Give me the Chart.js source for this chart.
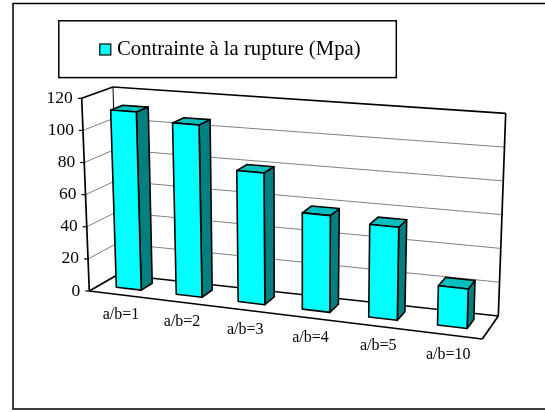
<!DOCTYPE html>
<html>
<head>
  <meta charset="utf-8">
  <title>Contrainte à la rupture</title>
  <script src="https://cdn.jsdelivr.net/npm/chart.js"></script>
  <style>
    html, body { margin: 0; padding: 0; background: white; }
    canvas { display: block; }
  </style>
</head>
<body>
<canvas id="chart" width="545" height="412"></canvas>
<script>
  const categories = ['a/b=1', 'a/b=2', 'a/b=3', 'a/b=4', 'a/b=5', 'a/b=10'];
  const rupture = [111, 106, 80, 58, 55, 23];
  const yTicks = [0, 20, 40, 60, 80, 100, 120];
  const seriesName = 'Contrainte à la rupture (Mpa)';

  const FONT = '"Liberation Serif", "Times New Roman", serif';

  // the 3D box on screen: front plane, then back plane
  const box = {
    front: { bl: [89.3, 291], br: [482.3, 339], tl: [81.7, 98.3], tr: [487.7, 130.3] },
    back: { bl: [118, 274.5], br: [498.3, 316], tl: [113, 87], tr: [505.7, 113.3] }
  };
  const persp = 1.11;          // bars get wider towards the right
  const barDepth = [0.35, 0.75];

  function lerp(a, b, t) { return [a[0] + (b[0] - a[0]) * t, a[1] + (b[1] - a[1]) * t]; }

  // chart area pixel + depth (0 front, 1 back) -> screen point
  function project(area, px, py, d) {
    let u = (px - area.left) / area.width;
    const v = (area.bottom - py) / area.height;
    u = u / (u + (1 - u) * persp);
    const f = lerp(lerp(box.front.bl, box.front.br, u), lerp(box.front.tl, box.front.tr, u), v);
    const b = lerp(lerp(box.back.bl, box.back.br, u), lerp(box.back.tl, box.back.tr, u), v);
    return lerp(f, b, d);
  }

  function poly(ctx, pts, fill) {
    ctx.beginPath();
    pts.forEach((p, i) => i ? ctx.lineTo(p[0], p[1]) : ctx.moveTo(p[0], p[1]));
    ctx.closePath();
    if (fill) { ctx.fillStyle = fill; ctx.fill(); }
    ctx.stroke();
  }

  function seg(ctx, a, b) {
    ctx.beginPath();
    ctx.moveTo(a[0], a[1]);
    ctx.lineTo(b[0], b[1]);
    ctx.stroke();
  }

  const frame3d = {
    id: 'frame3d',
    beforeDatasetsDraw(chart) {
      const ctx = chart.ctx, area = chart.chartArea, y = chart.scales.y;
      const L = area.left, R = area.right;
      ctx.save();

      // outer border, runs off the right side of the page
      ctx.strokeStyle = '#000';
      ctx.lineWidth = 1.5;
      ctx.strokeRect(13, 3.5, 560, 405.5);

      // gridlines on side wall and back wall
      ctx.strokeStyle = '#808080';
      ctx.lineWidth = 1;
      yTicks.forEach(t => {
        if (t === 0 || t === 120) return;
        const py = y.getPixelForValue(t);
        const c = project(area, L, py, 1);
        seg(ctx, project(area, L, py, 0), c);
        seg(ctx, c, project(area, R, py, 1));
      });

      // box edges
      ctx.strokeStyle = '#000';
      ctx.lineWidth = 1.7;
      const top = y.getPixelForValue(120), bot = y.getPixelForValue(0);
      seg(ctx, project(area, L, top, 0), project(area, L, bot, 0));
      seg(ctx, project(area, L, top, 0), project(area, L, top, 1));
      seg(ctx, project(area, L, top, 1), project(area, R, top, 1));
      seg(ctx, project(area, R, top, 1), project(area, R, bot, 1));
      seg(ctx, project(area, L, bot, 0), project(area, R, bot, 0));
      seg(ctx, project(area, R, bot, 0), project(area, R, bot, 1));
      seg(ctx, project(area, L, bot, 0), project(area, L, bot, 1));
      seg(ctx, project(area, L, bot, 1), project(area, R, bot, 1));
      ctx.lineWidth = 1;
      seg(ctx, project(area, L, top, 1), project(area, L, bot, 1));

      // y ticks and labels
      ctx.fillStyle = '#000';
      ctx.font = '17.5px ' + FONT;
      ctx.textAlign = 'right';
      ctx.textBaseline = 'middle';
      ctx.lineWidth = 1.2;
      yTicks.forEach(t => {
        const p = project(area, L, y.getPixelForValue(t), 0);
        seg(ctx, [p[0] - 4, p[1]], [p[0] + 1, p[1]]);
        ctx.fillText(String(t), p[0] - 9, p[1]);
      });

      // x labels under the front edge
      ctx.font = '16px ' + FONT;
      ctx.textAlign = 'center';
      const bars = chart.getDatasetMeta(0).data;
      bars.forEach((el, i) => {
        const p = project(area, el.x, bot, 0);
        ctx.fillText(categories[i], p[0] + 2, p[1] + 20);
      });
      ctx.restore();

      // bars: front, top and side faces from the bar elements
      ctx.save();
      ctx.strokeStyle = '#000';
      ctx.lineWidth = 1.6;
      ctx.lineJoin = 'round';
      bars.forEach(el => {
        const x0 = el.x - el.width / 2, x1 = el.x + el.width / 2;
        const [d0, d1] = barDepth;
        const p = (x, py, d) => project(area, x, py, d);
        poly(ctx, [p(x1, el.y, d0), p(x1, el.y, d1), p(x1, el.base, d1), p(x1, el.base, d0)], '#008080');
        poly(ctx, [p(x0, el.y, d0), p(x0, el.y, d1), p(x1, el.y, d1), p(x1, el.y, d0)], '#00BFBF');
        poly(ctx, [p(x0, el.y, d0), p(x1, el.y, d0), p(x1, el.base, d0), p(x0, el.base, d0)], '#00FFFF');
      });
      ctx.restore();

      // legend box
      ctx.save();
      ctx.strokeStyle = '#000';
      ctx.lineWidth = 1.5;
      ctx.strokeRect(58.8, 20.8, 337.5, 56.8);
      ctx.lineWidth = 1.2;
      ctx.fillStyle = '#00FFFF';
      ctx.fillRect(99.8, 44, 11, 11);
      ctx.strokeRect(99.8, 44, 11, 11);
      ctx.fillStyle = '#000';
      ctx.font = '20.7px ' + FONT;
      ctx.textAlign = 'left';
      ctx.textBaseline = 'middle';
      ctx.fillText(chart.data.datasets[0].label, 117, 50);
      ctx.restore();

      return false; // faces above replace the flat bars
    }
  };

  new Chart(document.getElementById('chart'), {
    type: 'bar',
    data: {
      labels: categories,
      datasets: [{
        label: seriesName,
        data: rupture,
        backgroundColor: '#00FFFF',
        categoryPercentage: 0.42,
        barPercentage: 1
      }]
    },
    options: {
      responsive: false,
      animation: false,
      layout: { padding: 0 },
      plugins: { legend: { display: false }, tooltip: { enabled: false } },
      scales: {
        x: { display: false },
        y: { display: false, min: 0, max: 120 }
      }
    },
    plugins: [frame3d]
  });
</script>
</body>
</html>
